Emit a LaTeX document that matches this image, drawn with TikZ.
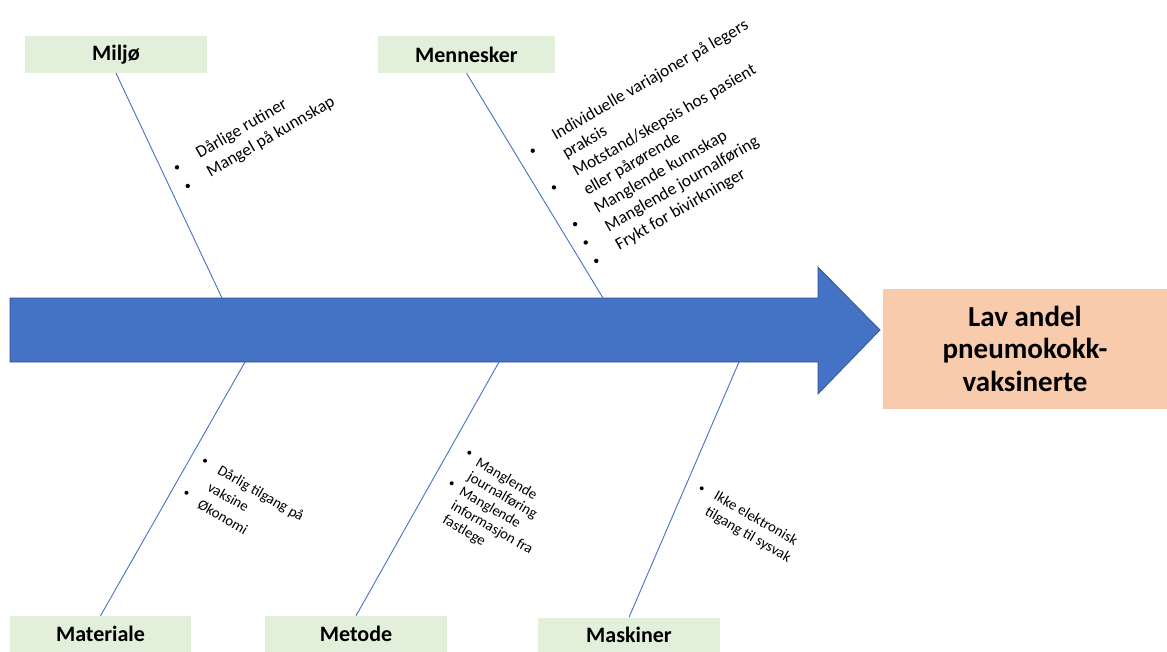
\documentclass[tikz,border=0pt]{standalone}
\usepackage{fontspec}
\setmainfont{Carlito}
\definecolor{catfill}{HTML}{E2EFDA}
\definecolor{effectfill}{HTML}{F8CBAD}
\definecolor{spine}{HTML}{4472C4}
\definecolor{spineedge}{HTML}{2F528F}
\begin{document}
\begin{tikzpicture}[x=1pt,y=-1pt,
  cat/.style={fill=catfill, inner sep=0pt, minimum width=182pt, minimum height=37pt,
    font=\fontsize{22}{25}\selectfont\bfseries},
  effect/.style={fill=effectfill, inner sep=0pt, minimum width=284pt, minimum height=120pt,
    align=center, font=\fontsize{29}{32.5}\selectfont\bfseries},
  bone/.style={draw=spine, line width=0.9pt},
  topitem/.style={anchor=base west, inner sep=0pt, font=\fontsize{17.3}{20}\selectfont},
  botitem/.style={anchor=base west, inner sep=0pt, font=\fontsize{14.8}{17}\selectfont},
  bul/.style={fill=black}
]
\useasboundingbox (0,0) rectangle (1167,651);

% category boxes
\node[cat] (miljo) at (116,54.5) {Miljø};
\node[cat, minimum width=177pt] (mennesker) at (466.5,54.5) {Mennesker};
\node[cat, minimum width=181pt, minimum height=36pt] (materiale) at (100.5,634) {Materiale};
\node[cat, minimum height=36pt] (metode) at (356,634) {Metode};
\node[cat, minimum height=34pt] (maskiner) at (629,634.5) {Maskiner};

% effect box
\node[effect] (effekt) at (1025,348.5) {Lav andel\\pneumokokk-\\vaksinerte};

% points where the bones meet the spine
\coordinate (jmiljo) at (222,298);
\coordinate (jmennesker) at (603,298);
\coordinate (jmateriale) at (245,362);
\coordinate (jmetode) at (499,362);
\coordinate (jmaskiner) at (739,362);

% bones
\draw[bone] (miljo.south) -- (jmiljo);
\draw[bone] (mennesker.south) -- (jmennesker);
\draw[bone] (materiale.north) -- (jmateriale);
\draw[bone] (metode.north) -- (jmetode);
\draw[bone] (maskiner.north) -- (jmaskiner);

% spine arrow
\fill[spine, draw=spineedge, line width=0.7pt]
  (10,298) -- (818,298) -- (818,267) -- (880,330) -- (818,394) -- (818,362) -- (10,362) -- cycle;

% Miljø causes
\begin{scope}[shift={(177,167.3)}, rotate=30, transform shape]
  \fill[bul] (0,0) circle (2.2pt);
  \fill[bul] (0,21.5) circle (2.2pt);
  \node[topitem] (mi1) at (24,3.8) {Dårlige rutiner};
  \node[topitem] (mi2) at (24,25.3) {Mangel på kunnskap};
\end{scope}

% Mennesker causes
\begin{scope}[shift={(532.7,150.7)}, rotate=30, transform shape]
  \fill[bul] (0,0) circle (2.2pt);
  \fill[bul] (0,42.4) circle (2.2pt);
  \fill[bul] (0,84.8) circle (2.2pt);
  \fill[bul] (0,106) circle (2.2pt);
  \fill[bul] (0,127.2) circle (2.2pt);
  \node[topitem] (me1) at (25,2.5) {Individuelle variajoner på legers};
  \node[topitem] (me2) at (25,23.7) {praksis};
  \node[topitem] (me3) at (25,44.9) {Motstand/skepsis hos pasient};
  \node[topitem] (me4) at (25,66.1) {eller pårørende};
  \node[topitem] (me5) at (25,87.3) {Manglende kunnskap};
  \node[topitem] (me6) at (25,108.5) {Manglende journalføring};
  \node[topitem] (me7) at (25,129.7) {Frykt for bivirkninger};
\end{scope}

% Materiale causes
\begin{scope}[shift={(205,460.7)}, rotate=-30, transform shape]
  \fill[bul] (0,0) circle (2pt);
  \fill[bul] (0,37) circle (2pt);
  \node[botitem] (ma1) at (16,5) {Dårlig tilgang på};
  \node[botitem] (ma2) at (16,24.8) {vaksine};
  \node[botitem] (ma3) at (16,44.6) {Økonomi};
\end{scope}

% Metode causes
\begin{scope}[shift={(469.3,452.7)}, rotate=-30, transform shape]
  \fill[bul] (0,0) circle (2pt);
  \fill[bul] (0,35.3) circle (2pt);
  \node[botitem] (mt1) at (11,8.5) {Manglende};
  \node[botitem] (mt2) at (11,25) {journalføring};
  \node[botitem] (mt3) at (11,41.5) {Manglende};
  \node[botitem] (mt4) at (11,58) {informasjon fra};
  \node[botitem] (mt5) at (11,74.5) {fastlege};
\end{scope}

% Maskiner causes
\begin{scope}[shift={(701.7,488.3)}, rotate=-30, transform shape]
  \fill[bul] (0,0) circle (2pt);
  \node[botitem] (mk1) at (15,3.5) {Ikke elektronisk};
  \node[botitem] (mk2) at (15,21.5) {tilgang til sysvak};
\end{scope}
\end{tikzpicture}
\end{document}
